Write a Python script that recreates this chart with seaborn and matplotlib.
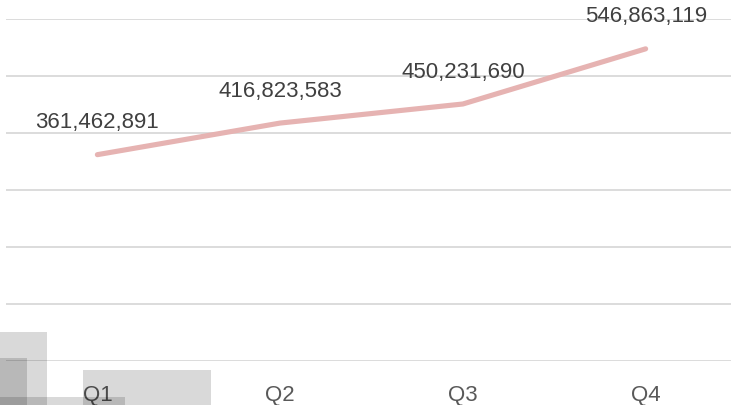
import matplotlib
matplotlib.use("Agg")
from matplotlib import pyplot as plt
from matplotlib.patches import Rectangle
import pandas as pd
import seaborn as sns

quarters = ["Q1", "Q2", "Q3", "Q4"]
values = [361462891, 416823583, 450231690, 546863119]
y_ticks = [0, 100e6, 200e6, 300e6, 400e6, 500e6, 600e6]

sns.set_style("white")
plt.rcParams["font.family"] = ["Liberation Sans", "DejaVu Sans"]

df = pd.DataFrame({"quarter": quarters, "value": values})

W, H = 731, 405
fig = plt.figure(figsize=(W / 100, H / 100), dpi=100)
ax = fig.add_axes([6 / W, (H - 361) / H, 731 / W, 342.5 / H])

sns.lineplot(data=df, x="quarter", y="value", ax=ax, sort=False,
             color="#E6B3B2", linewidth=3.7, solid_capstyle="round")

ax.set_xlim(-0.5, 3.5)
ax.set_ylim(0, 600e6)
ax.set_yticks(y_ticks)
ax.yaxis.grid(True, color="#D9D9D9", linewidth=1.3)
ax.set_axisbelow(True)
ax.tick_params(axis="y", left=False, labelleft=False)
ax.tick_params(axis="x", bottom=False, pad=13.5, labelsize=16, labelcolor="#595959")
ax.set_xlabel("")
ax.set_ylabel("")
for s in ax.spines.values():
    s.set_visible(False)

for i, v in enumerate(values):
    ax.annotate(f"{v:,}", (i, v), xytext=(0, 23), textcoords="offset points",
                ha="center", va="center", fontsize=16, color="#404040")

# grey overlay blocks in the lower left corner
for x0, y0, x1, y1 in [(0, 332, 47, 405), (0, 358, 27, 405),
                       (83, 370, 211, 405), (0, 397, 125, 405)]:
    fig.patches.append(Rectangle((x0 / W, (H - y1) / H), (x1 - x0) / W, (y1 - y0) / H,
                                 transform=fig.transFigure, facecolor="black",
                                 alpha=0.15, edgecolor="none"))

fig.savefig("out.png", dpi=100)
